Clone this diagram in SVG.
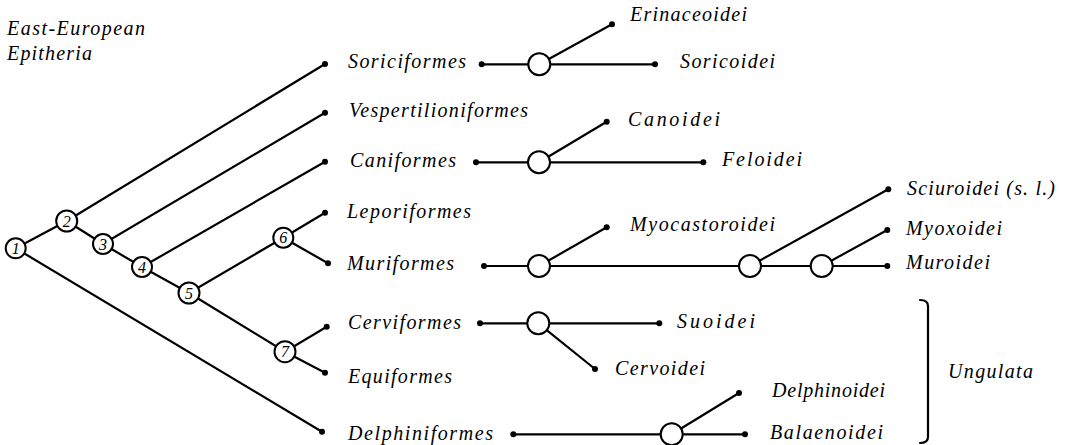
<svg xmlns="http://www.w3.org/2000/svg" width="1067" height="445" viewBox="0 0 1067 445">
<style>
.ln{stroke:#000;stroke-width:2.2;fill:none;stroke-linecap:round}
.nd{fill:#fff;stroke:#000;stroke-width:2}
.dot{fill:#000}
.lb{font-family:"Liberation Serif","Times New Roman",serif;font-style:italic;font-size:20px;fill:#000}
.num{font-family:"Liberation Serif","Times New Roman",serif;font-style:italic;font-size:16px;fill:#000;text-anchor:middle}
</style>
<rect width="1067" height="445" fill="#fff"/>
<g id="title">
<text class="lb" x="7" y="35" textLength="138" lengthAdjust="spacing">East-European</text>
<text class="lb" x="7" y="60" textLength="85" lengthAdjust="spacing">Epitheria</text>
</g>
<g id="connectors">
<path class="ln" d="M15.7,248.3 L66.7,221 L325,64"/>
<path class="ln" d="M66.7,221 L103,244 L325,112.7"/>
<path class="ln" d="M103,244 L142,267 L325,161.7"/>
<path class="ln" d="M142,267 L189,293 L283.3,237.7 L325,212.7"/>
<path class="ln" d="M283.3,237.7 L328,263.3"/>
<path class="ln" d="M189,293 L285,351.7 L326.7,326.7"/>
<path class="ln" d="M285,351.7 L325,372.7"/>
<path class="ln" d="M15.7,248.3 L322,431.7"/>
<path class="ln" d="M481.7,64.3 L655,64.3 M539.3,64.3 L612,24.3"/>
<path class="ln" d="M476,162.3 L703.3,162.3 M539,162.3 L606.7,121.7"/>
<path class="ln" d="M484,266 L887,266 M539,266 L606.7,227.3 M750,266 L888.3,189.3 M821.7,266 L887.3,230"/>
<path class="ln" d="M480,323.3 L659.3,323.3 M538.3,323.3 L595,369"/>
<path class="ln" d="M513.3,434.3 L745,434.3 M671.7,434.3 L739,393"/>
<path class="ln" d="M920,300 Q928,300 928,306 L928,437 Q928,443 920,443"/>
</g>
<g id="n1"><circle class="nd" cx="15.7" cy="248.3" r="10"/><text class="num" x="15.7" y="253.8">1</text></g>
<g id="n2"><circle class="nd" cx="66.7" cy="221" r="10.5"/><text class="num" x="66.7" y="226.5">2</text></g>
<g id="n3"><circle class="nd" cx="103" cy="244" r="10"/><text class="num" x="103" y="249.5">3</text></g>
<g id="n4"><circle class="nd" cx="142" cy="267" r="10"/><text class="num" x="142" y="272.5">4</text></g>
<g id="n5"><circle class="nd" cx="189" cy="293" r="10.5"/><text class="num" x="189" y="298.5">5</text></g>
<g id="n6"><circle class="nd" cx="283.3" cy="237.7" r="10"/><text class="num" x="283.3" y="243.2">6</text></g>
<g id="n7"><circle class="nd" cx="285" cy="351.7" r="10.5"/><text class="num" x="285" y="357.2">7</text></g>
<g id="soriciformes"><circle class="dot" cx="325" cy="64" r="3"/><text class="lb" x="348" y="68" textLength="118" lengthAdjust="spacing">Soriciformes</text></g>
<g id="vespertilioniformes"><circle class="dot" cx="325" cy="112.7" r="3"/><text class="lb" x="349" y="117" textLength="179" lengthAdjust="spacing">Vespertilioniformes</text></g>
<g id="caniformes"><circle class="dot" cx="325" cy="161.7" r="3"/><text class="lb" x="350" y="167" textLength="106" lengthAdjust="spacing">Caniformes</text></g>
<g id="leporiformes"><circle class="dot" cx="325" cy="212.7" r="3"/><text class="lb" x="347" y="218" textLength="124" lengthAdjust="spacing">Leporiformes</text></g>
<g id="muriformes"><circle class="dot" cx="328" cy="263.3" r="3"/><text class="lb" x="347" y="270" textLength="107" lengthAdjust="spacing">Muriformes</text></g>
<g id="cerviformes"><circle class="dot" cx="326.7" cy="326.7" r="3"/><text class="lb" x="348" y="329" textLength="113" lengthAdjust="spacing">Cerviformes</text></g>
<g id="equiformes"><circle class="dot" cx="325" cy="372.7" r="3"/><text class="lb" x="348" y="383" textLength="104" lengthAdjust="spacing">Equiformes</text></g>
<g id="delphiniformes"><circle class="dot" cx="322" cy="431.7" r="3"/><text class="lb" x="348" y="440" textLength="145" lengthAdjust="spacing">Delphiniformes</text></g>
<g id="sorici-sub"><circle class="dot" cx="481.7" cy="64.3" r="3"/><circle class="nd" cx="539.3" cy="64.3" r="11"/></g>
<g id="cani-sub"><circle class="dot" cx="476" cy="162.3" r="3"/><circle class="nd" cx="539" cy="162.3" r="11"/></g>
<g id="muri-sub"><circle class="dot" cx="484" cy="266" r="3"/><circle class="nd" cx="539" cy="266" r="11"/></g>
<g id="muri-sub2"><circle class="nd" cx="750" cy="266" r="11"/></g>
<g id="muri-sub3"><circle class="nd" cx="821.7" cy="266" r="11"/></g>
<g id="cervi-sub"><circle class="dot" cx="480" cy="323.3" r="3"/><circle class="nd" cx="538.3" cy="323.3" r="11"/></g>
<g id="delphini-sub"><circle class="dot" cx="513.3" cy="434.3" r="3"/><circle class="nd" cx="671.7" cy="434.3" r="11"/></g>
<g id="erinaceoidei"><circle class="dot" cx="612" cy="24.3" r="3"/><text class="lb" x="630" y="21" textLength="117" lengthAdjust="spacing">Erinaceoidei</text></g>
<g id="soricoidei"><circle class="dot" cx="655" cy="64.3" r="3"/><text class="lb" x="680" y="68" textLength="95" lengthAdjust="spacing">Soricoidei</text></g>
<g id="canoidei"><circle class="dot" cx="606.7" cy="121.7" r="3"/><text class="lb" x="628" y="126" textLength="92" lengthAdjust="spacing">Canoidei</text></g>
<g id="feloidei"><circle class="dot" cx="703.3" cy="162.3" r="3"/><text class="lb" x="722" y="166" textLength="80" lengthAdjust="spacing">Feloidei</text></g>
<g id="myocastoroidei"><circle class="dot" cx="606.7" cy="227.3" r="3"/><text class="lb" x="630" y="231" textLength="145" lengthAdjust="spacing">Myocastoroidei</text></g>
<g id="sciuroidei"><circle class="dot" cx="888.3" cy="189.3" r="3"/><text class="lb" x="907" y="195" textLength="148" lengthAdjust="spacing">Sciuroidei (s. l.)</text></g>
<g id="myoxoidei"><circle class="dot" cx="887.3" cy="230" r="3"/><text class="lb" x="906" y="235" textLength="96" lengthAdjust="spacing">Myoxoidei</text></g>
<g id="muroidei"><circle class="dot" cx="887.3" cy="266" r="3"/><text class="lb" x="906" y="269" textLength="84" lengthAdjust="spacing">Muroidei</text></g>
<g id="suoidei"><circle class="dot" cx="659.3" cy="323.3" r="3"/><text class="lb" x="677" y="328" textLength="78" lengthAdjust="spacing">Suoidei</text></g>
<g id="cervoidei"><circle class="dot" cx="595" cy="369" r="3"/><text class="lb" x="615" y="375" textLength="90" lengthAdjust="spacing">Cervoidei</text></g>
<g id="delphinoidei"><circle class="dot" cx="739" cy="393" r="3"/><text class="lb" x="772" y="397" textLength="113" lengthAdjust="spacing">Delphinoidei</text></g>
<g id="balaenoidei"><circle class="dot" cx="745" cy="434.3" r="3"/><text class="lb" x="770" y="439" textLength="113" lengthAdjust="spacing">Balaenoidei</text></g>
<g id="ungulata"><text class="lb" x="948" y="378" textLength="85" lengthAdjust="spacing">Ungulata</text></g>
</svg>
